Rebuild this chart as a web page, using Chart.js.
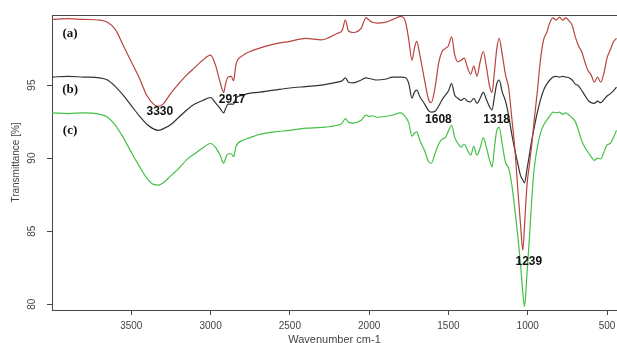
<!DOCTYPE html>
<html>
<head>
<meta charset="utf-8">
<script src="https://cdn.jsdelivr.net/npm/chart.js@4.4.0/dist/chart.umd.min.js"></script>
<style>
  html, body { margin: 0; padding: 0; background: #fff; }
  #ftir { display: block; }
</style>
</head>
<body>
<canvas id="ftir" width="617" height="343"></canvas>
<script>
// wavenumber grid (cm-1), shared by the three spectra
var wavenumbers = [4000, 3900, 3800, 3700, 3650, 3600, 3550, 3500, 3450, 3400,
    3360, 3330, 3300, 3250, 3200, 3150, 3100, 3050, 3000, 2970,
    2940, 2917, 2905, 2890, 2870, 2855, 2840, 2800, 2750, 2700,
    2600, 2500, 2400, 2300, 2200, 2170, 2150, 2130, 2100, 2050,
    2020, 2000, 1980, 1950, 1900, 1850, 1800, 1770, 1750, 1730,
    1715, 1700, 1680, 1650, 1625, 1608, 1585, 1560, 1540, 1520,
    1500, 1480, 1460, 1440, 1420, 1400, 1380, 1360, 1340, 1320,
    1300, 1280, 1260, 1240, 1225, 1210, 1195, 1180, 1160, 1140,
    1120, 1100, 1080, 1060, 1045, 1031, 1020, 1005, 990, 975,
    960, 940, 920, 900, 880, 860, 840, 820, 800, 780,
    760, 740, 720, 700, 680, 660, 640, 620, 600, 580,
    560, 540, 520, 500, 480, 460, 440];

// (a)
var transA = [99.5, 99.55, 99.5, 99.45, 99.3, 98.8, 97.7, 96.6, 95.5, 94.25,
    93.7, 93.55, 93.7, 94.45, 95.1, 95.7, 96.2, 96.7, 97.05, 96.4,
    95.2, 94.5, 95.1, 95.55, 95.6, 95.3, 96.4, 97.0, 97.3, 97.5,
    97.8, 98.0, 98.2, 98.1, 98.55, 98.75, 99.45, 98.7, 98.6, 98.9,
    99.6, 99.45, 99.3, 99.25, 99.3, 99.5, 99.7, 99.3, 98.1, 96.7,
    97.5, 98.0, 97.05, 95.3, 94.0, 93.8, 94.8, 96.6, 97.3, 97.5,
    97.7, 98.3, 97.05, 96.6, 96.7, 96.85, 96.2, 95.75, 96.3, 95.6,
    96.6, 97.3, 96.2, 94.9, 94.5, 95.9, 97.5, 98.2, 97.05, 95.7,
    94.8, 92.7, 90.5, 87.5, 85.4, 83.7, 85.4, 88.1, 89.5, 90.9,
    92.5, 94.5, 96.7, 98.1, 98.6, 99.3, 99.6, 99.45, 99.65, 99.45,
    99.6, 99.4, 99.1, 98.3, 97.7, 97.3, 96.6, 96.0, 95.7, 95.2,
    95.55, 95.2, 95.8, 96.85, 97.4, 97.95, 98.2];

// (b)
var transB = [95.55, 95.6, 95.55, 95.5, 95.35, 94.9, 94.3, 93.6, 92.9, 92.3,
    92.0, 91.9, 92.0, 92.3, 92.8, 93.3, 93.7, 93.95, 94.15, 93.8,
    93.4, 93.1, 93.4, 93.7, 93.7, 93.7, 94.1, 94.3, 94.45, 94.5,
    94.65, 94.8, 94.9, 95.0, 95.2, 95.3, 95.5, 95.2, 95.15, 95.35,
    95.5, 95.45, 95.4, 95.35, 95.4, 95.55, 95.55, 95.5, 95.1, 94.1,
    94.5, 94.65, 94.2, 93.7, 93.25, 93.15, 93.2, 93.6, 94.0, 94.3,
    94.6, 95.1, 94.3, 94.1, 93.95, 94.1, 93.9, 93.85, 94.1, 93.75,
    94.1, 94.5, 94.0, 93.5, 93.3, 94.2, 95.1, 95.35, 94.5, 93.9,
    92.9, 91.6, 90.5, 89.5, 88.8, 88.5, 88.3, 89.2, 90.2, 91.2,
    92.05, 93.1, 93.97, 94.65, 95.07, 95.35, 95.55, 95.6, 95.55, 95.6,
    95.55, 95.5, 95.35, 95.07, 94.95, 94.65, 94.3, 93.97, 93.8, 93.75,
    93.9, 93.8, 94.0, 94.25, 94.4, 94.6, 94.86];

// (c)
var transC = [93.1, 93.05, 93.1, 93.0, 92.8, 92.25, 91.4, 90.4, 89.45, 88.6,
    88.2, 88.15, 88.3, 88.8, 89.3, 89.9, 90.3, 90.7, 91.0, 90.75,
    90.2, 89.65, 90.0, 90.3, 90.3, 90.1, 90.8, 91.2, 91.4, 91.6,
    91.8, 91.9, 92.05, 92.1, 92.25, 92.4, 92.7, 92.45, 92.4, 92.6,
    92.95, 92.85, 92.9, 92.8, 92.85, 92.95, 93.1, 92.8, 92.4, 91.5,
    91.7, 91.8, 91.2, 90.5, 89.75, 89.65, 90.3, 91.0, 91.3, 91.4,
    91.85, 92.25, 91.4, 91.0, 90.75, 90.95, 90.55, 90.2, 90.8, 90.2,
    90.7, 91.4, 90.7, 89.85, 89.4, 90.7, 91.9, 92.1, 90.9, 89.7,
    89.3, 88.15, 86.4, 84.4, 82.7, 80.8, 79.85, 82.0, 84.4, 87.1,
    89.2, 90.7, 91.7, 92.25, 92.6, 92.9, 93.15, 93.1, 93.15, 93.0,
    93.1, 92.95, 92.75, 92.5, 91.9, 91.2, 90.75, 90.4, 90.1, 89.85,
    90.0, 89.95, 90.4, 90.9, 91.0, 91.4, 91.9];

var xTicks = [3500, 3000, 2500, 2000, 1500, 1000, 500];
var yTicks = [80, 85, 90, 95];

// peak annotations (text, wavenumber, transmittance where the text sits)
var peakLabels = ['3330', '2917', '1608', '1318', '1239'];
var peakLabelX = [3320, 2864, 1563, 1196, 993];
var peakLabelY = [93.15, 93.97, 92.6, 92.6, 82.9];

var traceNames = ['(a)', '(b)', '(c)'];
var traceNameX = [3886, 3886, 3886];
var traceNameY = [98.55, 94.7, 91.85];

function toPoints(values) {
    return wavenumbers.map(function (w, i) { return { x: w, y: values[i] }; });
}

function plainTick(value) {
    return String(value);
}

var axisColor = '#474747';

// box line along the top of the plot region
var topFrame = {
    id: 'topFrame',
    afterDraw: function (chart) {
        var a = chart.chartArea;
        var ctx = chart.ctx;
        ctx.save();
        ctx.strokeStyle = axisColor;
        ctx.lineWidth = 1;
        ctx.beginPath();
        ctx.moveTo(a.left, Math.round(a.top) + 0.5);
        ctx.lineTo(a.right, Math.round(a.top) + 0.5);
        ctx.stroke();
        ctx.restore();
    }
};

var peakText = {
    id: 'peakText',
    afterDatasetsDraw: function (chart) {
        var ctx = chart.ctx;
        var xs = chart.scales.x, ys = chart.scales.y;
        ctx.save();
        ctx.fillStyle = '#111';
        ctx.textAlign = 'center';
        ctx.textBaseline = 'middle';
        ctx.font = 'bold 12px "Liberation Sans"';
        peakLabels.forEach(function (t, i) {
            ctx.fillText(t, xs.getPixelForValue(peakLabelX[i]), ys.getPixelForValue(peakLabelY[i]));
        });
        ctx.font = 'bold 13px "Liberation Serif"';
        traceNames.forEach(function (t, i) {
            ctx.fillText(t, xs.getPixelForValue(traceNameX[i]), ys.getPixelForValue(traceNameY[i]));
        });
        ctx.restore();
    }
};

var ctx = document.getElementById('ftir').getContext('2d');
var myChart = new Chart(ctx, {
    type: 'line',
    data: {
        datasets: [{
            label: '(a)',
            data: toPoints(transA),
            borderColor: '#b8433f',
            borderWidth: 1.2,
            pointRadius: 0,
            cubicInterpolationMode: 'monotone'
        }, {
            label: '(b)',
            data: toPoints(transB),
            borderColor: '#333333',
            borderWidth: 1.2,
            pointRadius: 0,
            cubicInterpolationMode: 'monotone'
        }, {
            label: '(c)',
            data: toPoints(transC),
            borderColor: '#45c045',
            borderWidth: 1.2,
            pointRadius: 0,
            cubicInterpolationMode: 'monotone'
        }]
    },
    options: {
        responsive: false,
        animation: false,
        layout: { padding: { top: 15, right: 0, bottom: 0, left: 0 } },
        plugins: {
            legend: { display: false },
            tooltip: { enabled: false }
        },
        scales: {
            x: {
                type: 'linear',
                reverse: true,
                min: 437,
                max: 4000,
                afterBuildTicks: function (scale) {
                    scale.ticks = xTicks.map(function (v) { return { value: v }; });
                },
                afterFit: function (scale) {
                    scale.height = 33;
                    // let the plot run to the right edge, like a clipped R figure
                    scale.paddingLeft = 0;
                    scale.paddingRight = 0;
                },
                grid: { drawOnChartArea: false, tickLength: 5, color: axisColor },
                border: { color: axisColor },
                ticks: {
                    padding: 5,
                    maxRotation: 0,
                    color: '#444',
                    callback: plainTick,
                    font: { family: '"Liberation Sans"', size: 10 }
                },
                title: {
                    display: true,
                    text: 'Wavenumber cm-1',
                    color: '#444',
                    font: { family: '"Liberation Sans"', size: 11, lineHeight: 1 },
                    padding: { top: 0, bottom: -2.5 }
                }
            },
            y: {
                min: 79.6,
                max: 99.8,
                afterBuildTicks: function (scale) {
                    scale.ticks = yTicks.map(function (v) { return { value: v }; });
                },
                afterFit: function (scale) { scale.width = 52; },
                grid: { drawOnChartArea: false, tickLength: 5, color: axisColor },
                border: { color: axisColor },
                ticks: {
                    minRotation: 90,
                    maxRotation: 90,
                    crossAlign: 'center',
                    padding: 9,
                    color: '#444',
                    callback: plainTick,
                    font: { family: '"Liberation Sans"', size: 10 }
                },
                title: {
                    display: true,
                    text: 'Transmittance [%]',
                    color: '#444',
                    font: { family: '"Liberation Sans"', size: 10 },
                    padding: { top: 10, bottom: 0 }
                }
            }
        }
    },
    plugins: [topFrame, peakText]
});
</script>
</body>
</html>
